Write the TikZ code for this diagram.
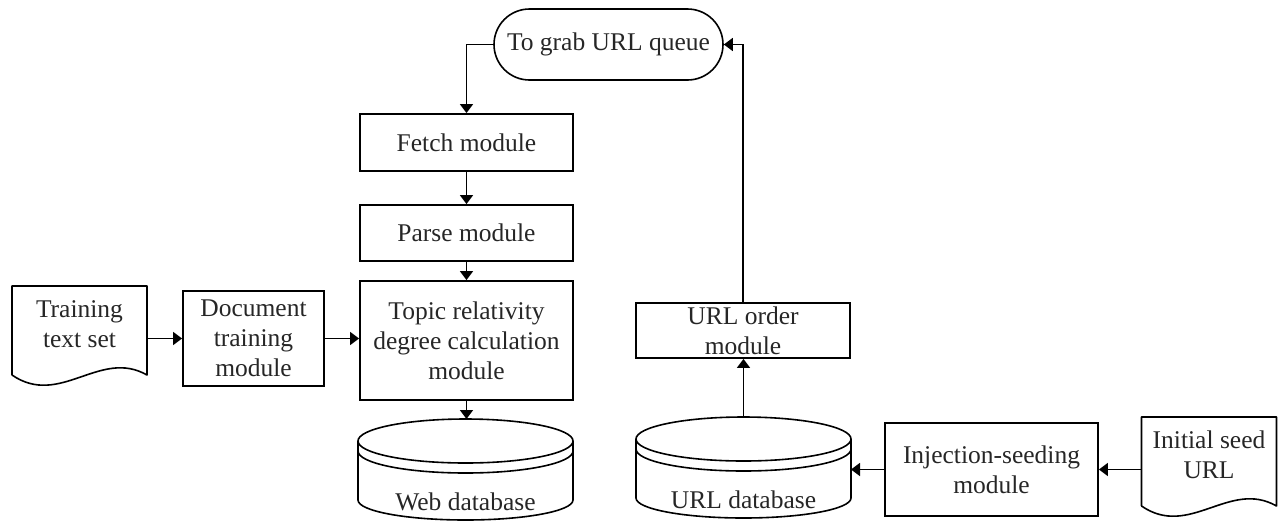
\documentclass[tikz,border=0pt]{standalone}
\usepackage{fontspec}
\setmainfont{Liberation Serif}
\usepackage{tikz}
\usetikzlibrary{arrows.meta,calc,shapes.misc}

% wavy document outline around a text node
\newcommand{\docshape}[1]{%
  \draw[line join=round] ($(#1)+(-67.5,51)$) -- ($(#1)+(-67.5,-38)$) -- ($(#1)+(67.5,-38)$)
    -- ($(#1)+(67.5,51)$) .. controls ($(#1)+(20.5,24)$) and ($(#1)+(-19.5,84)$) .. ($(#1)+(-67.5,51)$);
}
% database drum around a text node
\newcommand{\dbshape}[1]{%
  \draw ($(#1)+(-107.5,-61)$) -- ($(#1)+(-107.5,-2)$)
    arc[start angle=180, end angle=360, x radius=53.75pt, y radius=10pt]
    -- ($(#1)+(107.5,-61)$);
  \draw ($(#1)+(0,-61)$) ellipse[x radius=53.75pt, y radius=11pt];
  \draw ($(#1)+(-107.5,-51)$) arc[start angle=180, end angle=360, x radius=53.75pt, y radius=11pt];
  \coordinate (#1-top) at ($(#1)+(0,-83)$);
  \coordinate (#1-side) at ($(#1)+(107.5,-30)$);
}

\begin{document}
\begin{tikzpicture}[x=0.5pt,y=-0.5pt,line width=0.8pt]
  \tikzstyle{every node}=[font=\fontsize{12.75}{15}\selectfont, text=black!85, align=center, inner sep=1pt]
  \tikzstyle{module}=[draw, rectangle, line width=0.9pt, minimum width=106.5pt]
  \useasboundingbox (0,0) rectangle (1280,521);

  % Specification of nodes (position, etc.)
  \node[draw, rounded rectangle, minimum width=116.5pt, minimum height=35.5pt] (Queue) at (608.5,44.5) {To grab URL queue};
  \node[module, minimum height=28.5pt] (Fetch) at (466.5,142.5) {Fetch module};
  \node[module, minimum height=28pt] (Parse) at (466.5,233) {Parse module};
  \node[module, minimum height=59.5pt] (Topic) at (466.5,340.5) {Topic relativity\\degree calculation\\module};
  \node[module, minimum width=70.5pt, minimum height=47.5pt] (DocTrain) at (253.5,338.5) {Document\\training\\module};
  \node[module, minimum width=107pt, minimum height=27.5pt, inner ysep=0pt] (URLOrder) at (743,330.5) {URL order\\module};
  \node[module, minimum height=46.5pt] (Inject) at (991.5,469.5) {Injection-seeding\\module};
  \node[minimum width=67.5pt] (TrainSet) at (79.5,324) {Training\\text set};
  \node[minimum width=67.5pt] (Seed) at (1209,455) {Initial seed\\URL};
  \node (WebDB) at (465.5,502) {Web database};
  \node (URLDB) at (743.5,500) {URL database};

  \docshape{TrainSet}
  \docshape{Seed}
  \dbshape{WebDB}
  \dbshape{URLDB}

  \begin{scope}[-{Triangle[length=4.5pt,width=6.5pt]}]
    \draw (Queue.west) -| (Fetch.north);
    \draw (Fetch) -- (Parse);
    \draw (Parse) -- (Topic);
    \draw (Topic.south) -- (Topic.south |- WebDB-top);
    \draw (TrainSet.east |- DocTrain.west) -- (DocTrain.west);
    \draw (DocTrain.east) -- (DocTrain.east -| Topic.west);
    \draw (Seed.west |- Inject.east) -- (Inject.east);
    \draw (Inject.west) -- (Inject.west -| URLDB-side);
    \draw (URLDB-top) -- (URLDB-top |- URLOrder.south);
    \draw (URLOrder.north) |- (Queue.east);
  \end{scope}
\end{tikzpicture}
\end{document}
